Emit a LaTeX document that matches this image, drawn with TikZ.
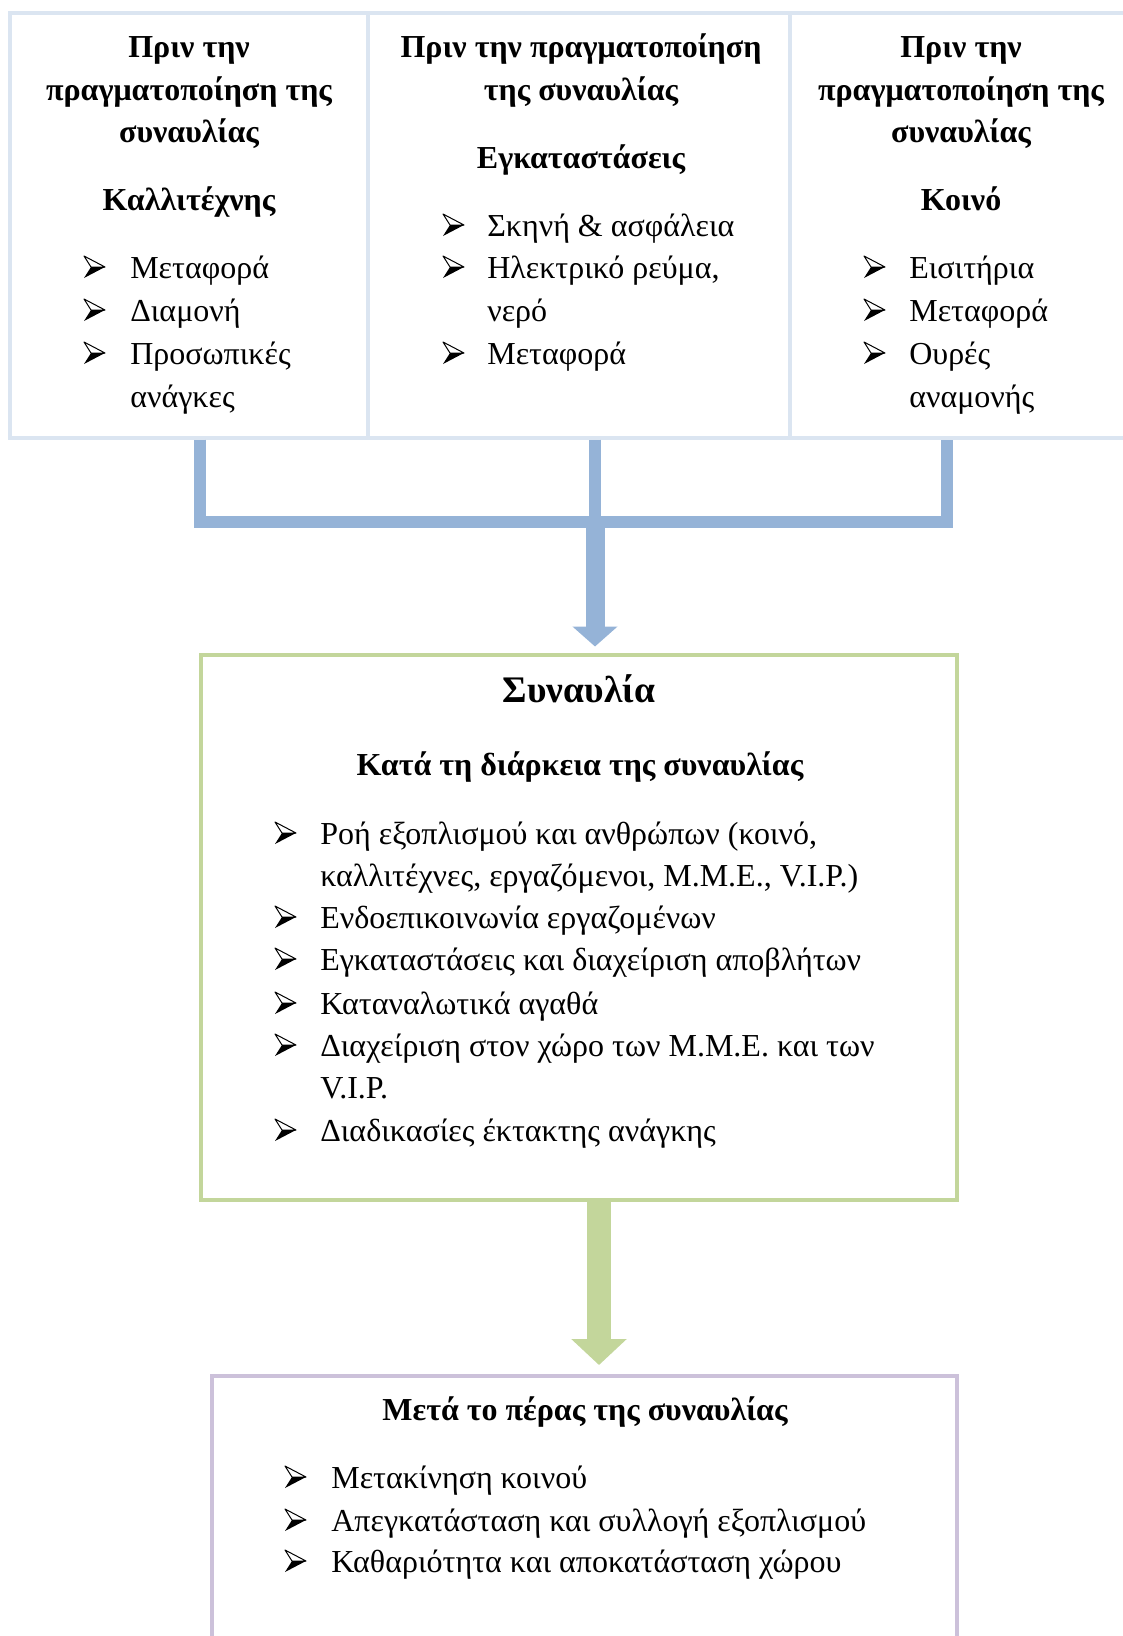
\documentclass[tikz,border=0pt]{standalone}
\usepackage{fontspec}
\setmainfont{Liberation Serif}
\usetikzlibrary{arrows.meta,positioning}
\definecolor{topblue}{HTML}{DBE5F1}
\definecolor{linkblue}{HTML}{95B3D7}
\definecolor{duringgreen}{HTML}{C3D69B}
\definecolor{afterlilac}{HTML}{CCC1DA}
\newcommand{\txtsize}{\fontsize{32}{42}\selectfont}
\newcommand{\bigsize}{\fontsize{37.5}{42}\selectfont\bfseries}

\begin{document}
\begin{tikzpicture}[x=1pt,y=-1pt,semithick]
  \tikzstyle{stagebox}=[draw,line width=4pt,inner sep=0pt]
  \tikzstyle{txtline}=[anchor=mid,inner sep=0pt,yshift=-8pt,font=\txtsize]
  \tikzstyle{heading}=[txtline,font=\txtsize\bfseries]
  \tikzstyle{listitem}=[txtline,anchor=mid west]
  \tikzstyle{link}=[draw=linkblue,line width=12pt]
  \tikzset{arrowbul/.pic={
    \filldraw[fill=white,line width=1pt,line join=round] (0,-11) -- (21,0) -- (7,0) -- cycle;
    \fill (0,11) -- (21,0) -- (7,0) -- cycle;
  }}
  \useasboundingbox (0,0) rectangle (1122,1636);

  % before the concert
  \node[stagebox,draw=topblue,minimum width=358pt,minimum height=425pt] (pre1) at (189,225) {};
  \node[stagebox,draw=topblue,minimum width=422pt,minimum height=425pt] (pre2) at (579,225) {};
  \node[stagebox,draw=topblue,minimum width=350pt,minimum height=425pt] (pre3) at (965,225) {};

  \node[heading] (h1a) at (189,47) {Πριν την};
  \node[heading] (h1b) at (189,90) {πραγματοποίηση της};
  \node[heading] (h1c) at (189,132) {συναυλίας};
  \node[heading] (h1d) at (189,200) {Καλλιτέχνης};
  \node[heading] (h2a) at (581,47) {Πριν την πραγματοποίηση};
  \node[heading] (h2b) at (581,90) {της συναυλίας};
  \node[heading] (h2c) at (581,158) {Εγκαταστάσεις};
  \node[heading] (h3a) at (961,47) {Πριν την};
  \node[heading] (h3b) at (961,90) {πραγματοποίηση της};
  \node[heading] (h3c) at (961,132) {συναυλίας};
  \node[heading] (h3d) at (961,200) {Κοινό};

  \foreach \tx/\ty/\t [count=\n] in {130/268/Μεταφορά, 130/311/Διαμονή, 130/354/Προσωπικές, 130/397/ανάγκες,
      487/226/Σκηνή \& ασφάλεια, 487/268/{Ηλεκτρικό ρεύμα,}, 487/311/νερό, 487/354/Μεταφορά,
      909/268/Εισιτήρια, 909/311/Μεταφορά, 909/354/Ουρές, 909/397/αναμονής}
    \node[listitem] (pi\n) at (\tx,\ty) {\t};
  \foreach \bx/\by in {84/267, 84/310, 84/353, 443/225, 443/267, 443/353, 864/267, 864/310, 864/353}
    \pic at (\bx,\by) {arrowbul};

  % during the concert
  \node[stagebox,draw=duringgreen,minimum width=756pt,minimum height=545pt] (concert) at (579,927) {};
  \node[txtline,font=\bigsize] (ctitle) at (579,692) {Συναυλία};
  \node[heading] (chead) at (580,765) {Κατά τη διάρκεια της συναυλίας};
  \foreach \ty/\t [count=\n] in {834/{Ροή εξοπλισμού και ανθρώπων (κοινό,},
      876/{καλλιτέχνες, εργαζόμενοι, Μ.Μ.Ε., V.I.P.)},
      918/Ενδοεπικοινωνία εργαζομένων, 960/Εγκαταστάσεις και διαχείριση αποβλήτων,
      1004/Καταναλωτικά αγαθά, 1046/Διαχείριση στον χώρο των Μ.Μ.Ε. και των,
      1088/V.I.P., 1131/Διαδικασίες έκτακτης ανάγκης}
    \node[listitem] (ci\n) at (320,\ty) {\t};
  \foreach \by in {833, 917, 959, 1003, 1045, 1130}
    \pic at (275,\by) {arrowbul};

  % after the concert
  \node[stagebox,draw=afterlilac,minimum width=745pt,minimum height=330pt] (after) at (584,1541) {};
  \node[heading] (ahead) at (585,1410) {Μετά το πέρας της συναυλίας};
  \foreach \ty/\t [count=\n] in {1478/Μετακίνηση κοινού, 1521/Απεγκατάσταση και συλλογή εξοπλισμού,
      1562/Καθαριότητα και αποκατάσταση χώρου}
    \node[listitem] (ai\n) at (331,\ty) {\t};
  \foreach \by in {1477, 1520, 1561}
    \pic at (285,\by) {arrowbul};

  % connectors
  \coordinate (bar) at (595,522);
  \coordinate (gx) at (599,0);
  \draw[link] ([xshift=11pt]pre1.south) |- (bar) -| ([xshift=-18pt]pre3.south);
  \draw[link] ([xshift=16pt]pre2.south) -- (bar);
  \draw[draw=linkblue,line width=19pt,-{Triangle[width=44pt,length=20pt,color=linkblue]},shorten >=6pt]
    (bar) -- (bar |- concert.north);
  \draw[draw=duringgreen,line width=24pt,-{Triangle[width=54pt,length=26pt,color=duringgreen]},shorten >=9pt]
    (concert.south -| gx) -- (after.north -| gx);
\end{tikzpicture}
\end{document}
